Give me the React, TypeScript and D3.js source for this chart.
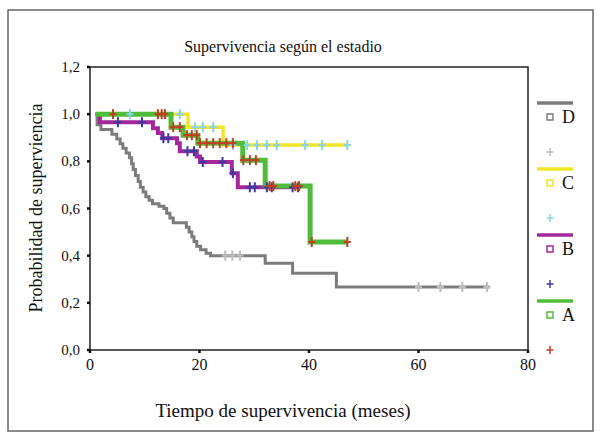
import * as d3 from 'd3';

const groups = ['A', 'B', 'C', 'D'];
const yTicks = [0, 0.2, 0.4, 0.6, 0.8, 1.0, 1.2];
const xTicks = [0, 20, 40, 60, 80];

// step curves: time of each drop and the survival right after it
const timesA = [1, 14.8, 17.0, 19.7, 27.9, 32.0, 40.2, 47];
const survA = [1, 0.945, 0.911, 0.877, 0.805, 0.695, 0.458, 0.458];
const censA = [4.2, 12.4, 13.1, 13.7, 15.2, 16.4, 17.7, 18.6, 19.5, 20.1, 21.3, 22.5, 23.7, 24.9, 26.1, 28.0, 29.2, 30.3, 32.8, 33.5, 37.5, 38.2, 40.5, 47];

const timesB = [1, 1.8, 11.5, 12.4, 13.2, 15.9, 16.4, 19.5, 20.1, 25.9, 27.0, 38];
const survB = [1, 0.966, 0.94, 0.92, 0.898, 0.877, 0.843, 0.82, 0.797, 0.75, 0.69, 0.69];
const censB = [5.1, 9.5, 13.4, 14.3, 17.8, 19.0, 20.6, 24.2, 26.1, 29.2, 30.1, 32.3, 33.2, 37.0, 38.0];

const timesC = [1, 17.9, 24.3, 47];
const survC = [1, 0.945, 0.869, 0.869];
const censC = [7.3, 16.4, 19.2, 20.6, 22.5, 26.1, 28.7, 30.5, 32.3, 34.1, 39.3, 42.4, 47];

const timesD = [1, 1.3, 2.0, 4.0, 4.9, 5.5, 6.0, 6.6, 7.2, 7.6, 7.9, 8.3, 8.8, 9.2, 9.7, 10.2, 10.8, 11.4, 12.6, 13.5, 14.0, 14.6, 15.2, 17.6, 18.1, 18.6, 19.0, 19.5, 20.2, 21.2, 22.0, 32.0, 37.0, 45.0, 73];
const survD = [1, 0.955, 0.935, 0.915, 0.895, 0.875, 0.855, 0.835, 0.815, 0.79, 0.765, 0.74, 0.715, 0.69, 0.67, 0.65, 0.635, 0.62, 0.61, 0.6, 0.58, 0.56, 0.54, 0.52, 0.5, 0.48, 0.46, 0.44, 0.425, 0.41, 0.4, 0.368, 0.325, 0.267, 0.267];
const censD = [24.7, 26.0, 27.4, 60, 64, 68, 72.5];

const lineColors: Record<string, string> = { A: '#50bd3a', B: '#a2289b', C: '#f0e526', D: '#7c7c7c' };
const lineWidths: Record<string, number> = { A: 5, B: 4, C: 3.5, D: 3 };
const censColors: Record<string, string> = { A: '#c53d24', B: '#3b3ba3', C: '#86d4ee', D: '#bdbdbd' };

const series: Record<string, { t: number[]; s: number[]; c: number[] }> = {
  A: { t: timesA, s: survA, c: censA },
  B: { t: timesB, s: survB, c: censB },
  C: { t: timesC, s: survC, c: censC },
  D: { t: timesD, s: survD, c: censD },
};

const W = 601;
const H = 440;
const m = { left: 90, top: 67, right: 528, bottom: 350 };
const font = '"Liberation Serif", "Times New Roman", serif';

const x = d3.scaleLinear().domain([0, 80]).range([m.left, m.right]);
const y = d3.scaleLinear().domain([0, 1.2]).range([m.bottom, m.top]);

function survAt(g: string, t: number) {
  const { t: ts, s } = series[g];
  let v = s[0];
  for (let i = 0; i < ts.length; i++) if (ts[i] <= t) v = s[i];
  return v;
}

const fmt = (v: number) => d3.format('.1f')(v).replace('.', ',');

export default function App() {
  const line = d3
    .line<[number, number]>()
    .x((d) => x(d[0]))
    .y((d) => y(d[1]))
    .curve(d3.curveStepAfter);

  const drawOrder = ['D', 'C', 'B', 'A'];
  const legendOrder = ['D', 'C', 'B', 'A'];
  const legendY = d3.scalePoint<string>().domain(legendOrder).range([103, 301]);

  return (
    <svg width={W} height={H} style={{ position: 'fixed', left: 0, top: 0, background: '#fff' }} fontFamily={font}>
      <rect x={8} y={10} width={585} height={421} fill="#fff" stroke="#666" strokeWidth={1.5} />

      <text x={283} y={52} textAnchor="middle" fontSize={16} fill="#111">
        Supervivencia según el estadio
      </text>

      {/* curves */}
      {drawOrder.map((g) => {
        const pts = series[g].t.map((t, i) => [t, series[g].s[i]] as [number, number]);
        return (
          <path key={g} d={line(pts) ?? ''} fill="none" stroke={lineColors[g]} strokeWidth={lineWidths[g]} strokeLinejoin="miter" />
        );
      })}

      {/* censor marks */}
      {['C', 'D', 'B', 'A'].map((g) =>
        series[g].c.map((t, i) => {
          const cx = x(t);
          const cy = y(survAt(g, t));
          return (
            <g key={g + i} stroke={censColors[g]} strokeWidth={2}>
              <line x1={cx} x2={cx} y1={cy - 5} y2={cy + 5} />
              <line x1={cx - 3.5} x2={cx + 3.5} y1={cy} y2={cy} />
            </g>
          );
        })
      )}

      {/* frame */}
      <rect x={m.left} y={m.top} width={m.right - m.left} height={m.bottom - m.top} fill="none" stroke="#222" strokeWidth={1.5} />

      {/* y axis */}
      {yTicks.map((v) => (
        <g key={'y' + v}>
          <line x1={m.left - 3} x2={m.left} y1={y(v)} y2={y(v)} stroke="#111" strokeWidth={2.5} />
          <text x={80} y={y(v) + 5} textAnchor="end" fontSize={15} fill="#111">
            {fmt(v)}
          </text>
        </g>
      ))}
      {/* x axis */}
      {xTicks.map((v) => (
        <g key={'x' + v}>
          <line x1={x(v)} x2={x(v)} y1={m.bottom} y2={m.bottom + 3} stroke="#111" strokeWidth={2.5} />
          <text x={x(v)} y={m.bottom + 20} textAnchor="middle" fontSize={16} fill="#111">
            {v}
          </text>
        </g>
      ))}

      <text x={283} y={417} textAnchor="middle" fontSize={19} fill="#111">
        Tiempo de supervivencia (meses)
      </text>
      <text transform={`translate(42,208) rotate(-90)`} textAnchor="middle" fontSize={18} fill="#111">
        Probabilidad de superviencia
      </text>

      {/* legend */}
      {legendOrder.map((g) => {
        const ly = legendY(g) ?? 0;
        return (
          <g key={'lg' + g}>
            <line x1={537} x2={573} y1={ly} y2={ly} stroke={lineColors[g]} strokeWidth={3.5} />
            <rect x={547} y={ly + 11} width={6} height={6} fill="#fff" stroke={lineColors[g]} strokeWidth={1.5} />
            <text x={562} y={ly + 20} fontSize={18} fill="#111">
              {g}
            </text>
            <g stroke={censColors[g]} strokeWidth={1.5}>
              <line x1={550} x2={550} y1={ly + 45} y2={ly + 53} />
              <line x1={546.5} x2={553.5} y1={ly + 49} y2={ly + 49} />
            </g>
          </g>
        );
      })}
      {groups.length === 0 && null}
    </svg>
  );
}
